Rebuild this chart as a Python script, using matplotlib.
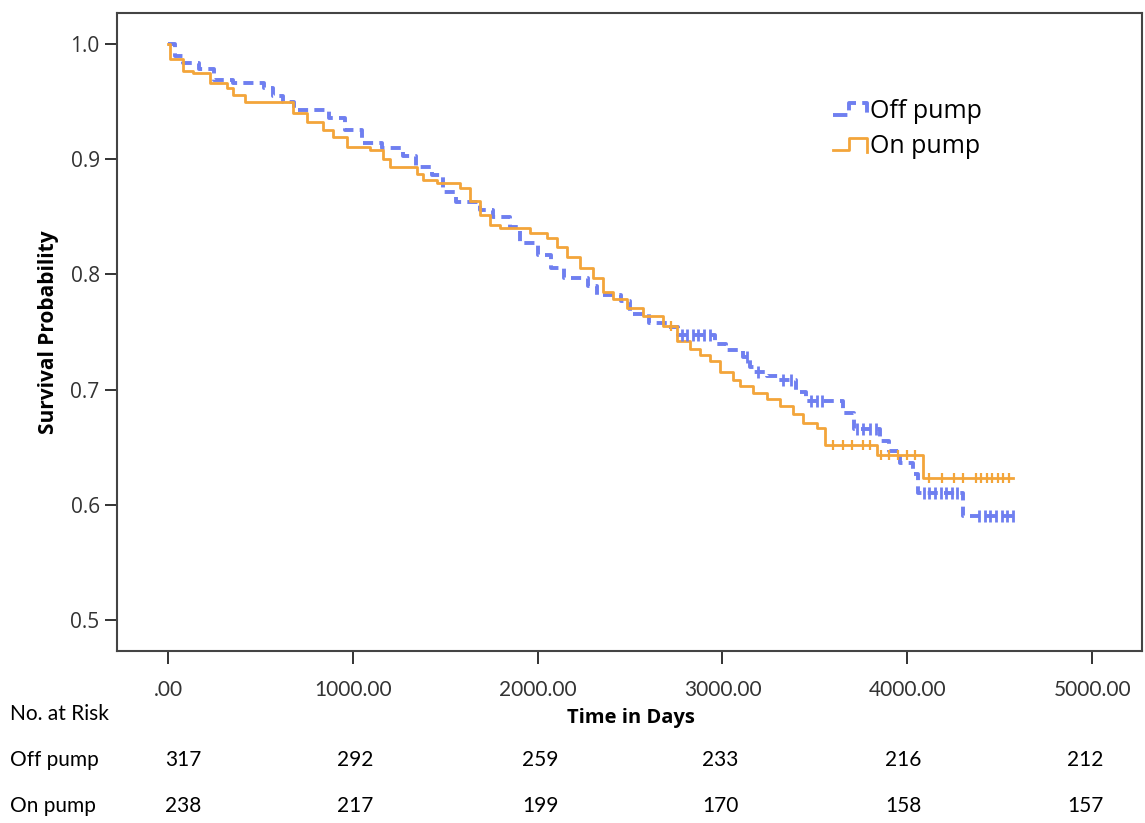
import matplotlib
matplotlib.use("Agg")
import matplotlib.pyplot as plt
from matplotlib.legend_handler import HandlerBase
from matplotlib.lines import Line2D
import numpy as np

# Kaplan-Meier steps (days, survival after the drop)
off_t = [0, 40, 80, 170, 250, 350, 520, 570, 620, 680, 870, 960, 1050, 1160, 1270,
         1340, 1430, 1490, 1560, 1690, 1760, 1850, 1905, 2000, 2070, 2140, 2270,
         2320, 2450, 2500, 2600, 2700, 2760, 2960, 3020, 3110, 3150, 3170, 3240,
         3300, 3400, 3450, 3650, 3710, 3850, 3900, 3960, 4030, 4060, 4300, 4590]
off_s = [1.0, 0.990, 0.984, 0.978, 0.969, 0.966, 0.962, 0.955, 0.950, 0.943, 0.936,
         0.925, 0.914, 0.910, 0.903, 0.893, 0.886, 0.872, 0.863, 0.856, 0.850, 0.841,
         0.827, 0.817, 0.806, 0.797, 0.790, 0.782, 0.777, 0.766, 0.758, 0.754, 0.747,
         0.740, 0.734, 0.728, 0.720, 0.715, 0.712, 0.708, 0.698, 0.690, 0.680, 0.666,
         0.655, 0.647, 0.636, 0.627, 0.610, 0.590, 0.590]

on_t = [0, 10, 81, 135, 227, 319, 352, 417, 676, 752, 839, 893, 969, 1093, 1163,
        1201, 1347, 1380, 1456, 1580, 1634, 1688, 1742, 1797, 1959, 2051, 2105,
        2159, 2229, 2300, 2354, 2408, 2484, 2570, 2679, 2754, 2825, 2879, 2933,
        2987, 3057, 3095, 3166, 3241, 3312, 3382, 3436, 3512, 3555, 3837, 4085, 4572]
on_s = [1.0, 0.987, 0.977, 0.975, 0.966, 0.962, 0.956, 0.950, 0.940, 0.932, 0.925,
        0.919, 0.911, 0.908, 0.900, 0.893, 0.887, 0.882, 0.879, 0.875, 0.864, 0.852,
        0.843, 0.840, 0.836, 0.832, 0.824, 0.815, 0.806, 0.797, 0.785, 0.779, 0.771,
        0.764, 0.755, 0.742, 0.735, 0.730, 0.725, 0.715, 0.708, 0.703, 0.697, 0.692,
        0.686, 0.679, 0.671, 0.667, 0.652, 0.643, 0.623, 0.623]

# censored observations
off_cens = [2780, 2810, 2840, 2870, 2900, 2930, 3130, 3190, 3330, 3370, 3480, 3510,
            3540, 3730, 3760, 3800, 3830, 4090, 4120, 4150, 4180, 4210, 4240, 4270,
            4390, 4420, 4450, 4480, 4510, 4540, 4570]
on_cens = [2720, 3600, 3650, 3700, 3760, 3800, 3860, 3900, 3950, 4000, 4040, 4120,
           4190, 4250, 4300, 4370, 4400, 4430, 4460, 4490, 4520, 4550]

risk_rows = ["Off pump", "On pump"]
off_risk = [317, 292, 259, 233, 216, 212]
on_risk = [238, 217, 199, 170, 158, 157]

blue = "#6f7ff0"
orange = "#f3a53a"


class StepHandler(HandlerBase):
    # SPSS style step glyph in the legend
    def create_artists(self, legend, orig, xdescent, ydescent, width, height,
                       fontsize, trans):
        x0, x1 = -xdescent, -xdescent + width
        xm = x0 + 0.45 * width
        lo, hi = -ydescent + 0.2 * height, -ydescent + 0.85 * height
        ln = Line2D([x0, xm, xm, x1, x1], [lo, lo, hi, hi, lo - 0.1 * height],
                    color=orig.get_color(), lw=orig.get_linewidth(),
                    linestyle=orig.get_linestyle(), transform=trans)
        return [ln]


fig = plt.figure(figsize=(11.45, 8.23), dpi=100)
ax = fig.add_axes([0.1022, 0.209, 0.8952, 0.7752])


def level(ts, ss, x):
    i = np.searchsorted(ts, x, side="right") - 1
    return np.array(ss)[i]


l1, = ax.step(off_t, off_s, where="post", color=blue, lw=2.8,
              linestyle=(0, (2.6, 1.6)), label="Off pump")
l2, = ax.step(on_t, on_s, where="post", color=orange, lw=2.0, label="On pump")
ax.plot(off_cens, level(off_t, off_s, off_cens), linestyle="none", marker="|",
        ms=8, mew=2.0, color=blue)
ax.plot(on_cens, level(on_t, on_s, on_cens), linestyle="none", marker="|",
        ms=7, mew=1.6, color=orange)

ax.set_xlim(-276, 5270)
ax.set_ylim(0.473, 1.027)
ax.set_xticks(np.arange(0, 5001, 1000))
ax.set_xticklabels([".00", "1000.00", "2000.00", "3000.00", "4000.00", "5000.00"],
                   family=["Lato", "DejaVu Sans"], fontsize=15)
ax.set_yticks([0.5, 0.6, 0.7, 0.8, 0.9, 1.0])
ax.set_yticklabels(["0.5", "0.6", "0.7", "0.8", "0.9", "1.0"],
                   family=["Open Sans", "DejaVu Sans"], fontsize=15, color="#333333")
ax.tick_params(axis="both", direction="out", length=9, width=1.4, color="#333333")
ax.tick_params(axis="x", pad=12, colors="#333333")
for sp in ax.spines.values():
    sp.set_linewidth(1.5)
    sp.set_color("#444444")

ax.set_ylabel("Survival Probability", fontsize=15, fontweight="bold",
              family=["Open Sans", "DejaVu Sans"], labelpad=8)
fig.text(0.551, 0.127, "Time in Days", fontsize=14.5, fontweight="bold",
         family=["Open Sans", "DejaVu Sans"], ha="center", va="center")

ax.legend(handles=[l1, l2], loc="upper left", bbox_to_anchor=(0.677, 0.9),
          frameon=False, handlelength=1.35, handletextpad=0.12, labelspacing=0.4,
          handler_map={Line2D: StepHandler()},
          prop={"family": ["Open Sans", "DejaVu Sans"], "size": 18})

# number at risk table
tfont = ["Lato", "DejaVu Sans"]
fig.text(0.009, 0.133, "No. at Risk", fontsize=15, family=tfont, va="center")
row_y = [0.077, 0.021]
risk_x = [0.160, 0.310, 0.472, 0.629, 0.789, 0.948]
for name, y, vals in zip(risk_rows, row_y, [off_risk, on_risk]):
    fig.text(0.009, y, name, fontsize=15, family=tfont, va="center")
    for x, v in zip(risk_x, vals):
        fig.text(x, y, str(v), fontsize=15, family=tfont, va="center", ha="center")

fig.savefig("out.png", dpi=100)
